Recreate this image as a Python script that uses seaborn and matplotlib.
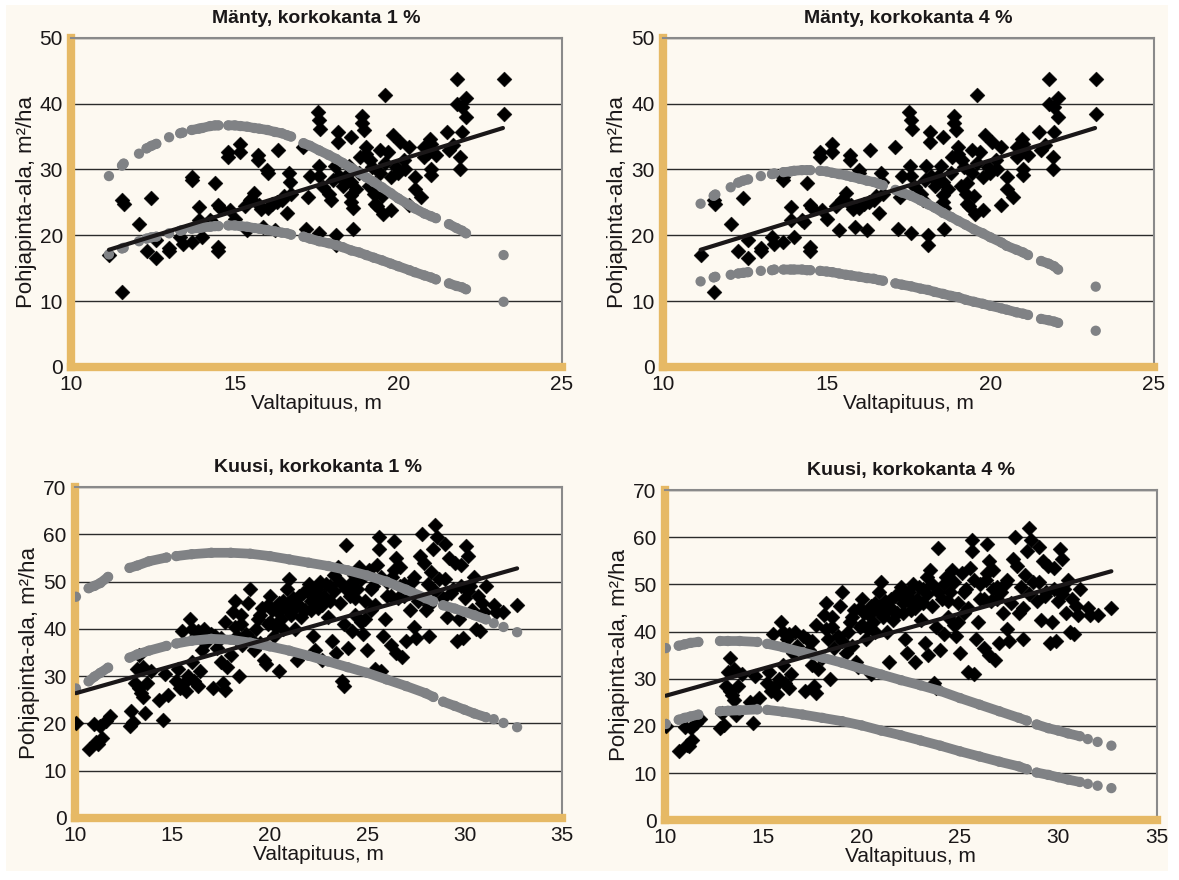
import numpy as np
import matplotlib.pyplot as plt
import seaborn as sns
from matplotlib.patches import Rectangle

nan = np.nan

# Mänty (pine): measured stands, dominant height vs basal area
pine_height = [11.15, 11.55, 11.6, 11.55, 12.07, 12.3, 12.45, 12.6, 12.6, 12.99,
               12.99, 13.33, 13.4, 13.68, 13.68, 13.68, 13.9, 14.0, 13.9, 14.25,
               14.4, 14.5, 14.5, 14.5, 14.55, 14.8, 14.8, 14.85, 15.0, 15.17,
               15.17, 15.38, 15.46, 15.6, 15.7, 15.7, 15.75, 15.87, 15.98, 16.0,
               16.15, 16.23, 16.32, 16.44, 16.6, 16.67, 16.7, 16.72, 17.1, 17.18,
               17.24, 17.3, 17.53, 17.58, 17.6, 17.56, 17.58, 17.58, 17.7, 17.87,
               17.93, 18.05, 18.1, 18.16, 18.16, 17.99, 18.56, 18.56, 18.6, 18.6,
               18.56, 18.56, 18.9, 18.9, 18.94, 18.83, 19.02, 19.02, 19.14, 19.2,
               19.25, 19.3, 19.43, 19.45, 19.54, 19.6, 19.7, 19.77, 19.77, 19.83,
               19.94, 20.0, 20.06, 20.17, 20.34, 20.34, 20.5, 20.5, 20.7, 20.8,
               20.8, 20.98, 21.0, 21.0, 21.0, 21.15, 21.5, 21.55, 21.78, 21.78,
               21.95, 22.07, 22.07, 21.95, 21.9, 21.9, 21.67, 23.22, 23.22, 18.3,
               18.4, 18.5, 18.7, 18.8, 19.1, 19.3, 19.5, 19.35, 15.5, 15.8,
               16.0, 16.3, 16.5, 15.3, 14.3, 18.2, 19.6, 20.2, 20.9, 18.1]
pine_ba = [17.0, 25.3, 24.8, 11.4, 21.7, 17.6, 25.6, 19.3, 16.5, 18.0,
           17.6, 19.8, 18.7, 28.9, 28.4, 19.0, 24.3, 19.7, 22.3, 22.3,
           28.0, 18.2, 17.6, 24.6, 24.1, 32.7, 31.9, 23.8, 22.5, 33.8,
           32.7, 20.8, 25.3, 26.4, 32.2, 31.4, 24.6, 21.3, 29.9, 29.4,
           24.8, 20.8, 33.0, 25.3, 23.4, 29.4, 28.1, 26.3, 33.4, 21.0,
           25.8, 29.0, 38.7, 37.5, 36.2, 30.6, 29.0, 20.3, 27.4, 26.3,
           25.3, 30.5, 20.0, 35.7, 34.2, 28.4, 35.0, 28.1, 21.0, 24.1,
           25.1, 26.1, 38.2, 37.0, 36.0, 31.9, 33.4, 32.4, 31.4, 30.4,
           26.3, 24.8, 32.9, 29.4, 23.3, 41.3, 32.7, 28.9, 23.8, 35.2,
           30.4, 29.4, 34.2, 31.4, 33.4, 24.6, 28.9, 27.1, 25.8, 33.4,
           31.9, 34.7, 33.9, 30.1, 29.1, 32.2, 35.7, 32.9, 43.8, 40.0,
           39.5, 40.8, 38.0, 35.7, 31.9, 30.1, 33.7, 43.7, 38.5, 27.5,
           29.0, 30.5, 27.0, 29.5, 27.5, 28.0, 26.0, 24.5, 25.5, 24.0,
           24.2, 25.0, 26.0, 24.5, 22.0, 29.0, 31.0, 30.0, 32.5, 18.6]

# Mänty: fitted trend line (end points)
pine_trend_x = [11.15, 23.2]
pine_trend_y = [17.8, 36.3]

# Mänty: grey model curves (nan = gap between runs of dots)
pine_curve_x = [11.15, nan, 11.55, 11.6, nan, 12.07, nan, 12.3, 12.45, 12.6,
                nan, 12.99, nan, 13.33, 13.4, nan, 13.68, 13.9, 14.0, 14.25,
                14.4, 14.5, nan, 14.8, 15.0, 15.17, 15.38, 15.6, 15.75, 16.0,
                16.23, 16.44, 16.6, 16.72, nan, 17.1, 17.3, 17.58, 17.87, 18.1,
                18.3, 18.56, 18.8, 19.02, 19.25, 19.5, 19.77, 20.0, 20.34, 20.5,
                20.8, 21.0, 21.15, nan, 21.55, 21.78, 21.95, 22.07, nan, 23.22]
pine1_hi = [29.0, nan, 30.6, 30.9, nan, 32.4, nan, 33.2, 33.6, 33.9,
            nan, 34.9, nan, 35.5, 35.6, nan, 36.0, 36.2, 36.3, 36.6,
            36.7, 36.7, nan, 36.7, 36.7, 36.6, 36.5, 36.3, 36.2, 36.0,
            35.7, 35.5, 35.2, 35.0, nan, 34.0, 33.6, 32.9, 32.2, 31.6,
            31.0, 30.2, 29.5, 28.8, 28.1, 27.3, 26.4, 25.6, 24.6, 24.1,
            23.3, 22.9, 22.6, nan, 21.7, 21.1, 20.7, 20.3, nan, 17.0]
pine1_lo = [17.1, nan, 18.0, 18.1, nan, 19.1, nan, 19.5, 19.7, 19.8,
            nan, 20.3, nan, 20.7, 20.8, nan, 21.0, 21.1, 21.2, 21.3,
            21.4, 21.4, nan, 21.5, 21.5, 21.4, 21.3, 21.1, 21.0, 20.8,
            20.6, 20.4, 20.3, 20.1, nan, 19.8, 19.5, 19.1, 18.8, 18.5,
            18.2, 17.7, 17.4, 17.0, 16.6, 16.2, 15.7, 15.3, 14.7, 14.4,
            13.9, 13.6, 13.3, nan, 12.7, 12.3, 12.1, 11.8, nan, 9.9]
pine4_hi = [24.8, nan, 26.0, 26.2, nan, 27.3, nan, 28.0, 28.3, 28.5,
            nan, 29.0, nan, 29.3, 29.4, nan, 29.6, 29.7, 29.8, 29.9,
            29.9, 29.9, nan, 29.8, 29.7, 29.5, 29.3, 29.1, 28.9, 28.6,
            28.3, 28.1, 27.8, 27.6, nan, 26.9, 26.5, 26.0, 25.3, 24.7,
            24.2, 23.4, 22.8, 22.2, 21.6, 20.9, 20.3, 19.7, 18.9, 18.4,
            17.8, 17.4, 17.0, nan, 16.1, 15.7, 15.3, 14.8, nan, 12.2]
pine4_lo = [13.0, nan, 13.6, 13.7, nan, 14.0, nan, 14.2, 14.3, 14.4,
            nan, 14.6, nan, 14.7, 14.8, nan, 14.8, 14.8, 14.8, 14.8,
            14.7, 14.7, nan, 14.6, 14.5, 14.4, 14.2, 14.0, 13.9, 13.7,
            13.5, 13.4, 13.2, 13.1, nan, 12.7, 12.5, 12.25, 11.9, 11.7,
            11.4, 11.1, 10.8, 10.6, 10.2, 9.9, 9.6, 9.3, 8.9, 8.7,
            8.3, 8.1, 7.9, nan, 7.3, 7.1, 6.9, 6.7, nan, 5.5]

# Kuusi (spruce): measured stands
spruce_height = [10.05, 10.7, 11.0, 11.2, 11.4, 11.3, 11.6, 11.8, 11.1, 12.8,
                 12.9, 13.0, 13.1, 13.2, 13.3, 13.4, 13.5, 13.6, 13.5, 13.7,
                 13.9, 13.3, 14.3, 14.5, 14.6, 14.8, 15.2, 15.3, 15.4, 15.5,
                 15.6, 15.7, 15.8, 15.9, 16.0, 16.1, 16.2, 16.3, 16.4, 16.5,
                 16.7, 16.6, 16.0, 17.0, 17.1, 17.3, 17.5, 17.6, 17.7, 17.8,
                 17.7, 18.0, 18.1, 18.2, 18.3, 18.4, 18.5, 18.6, 18.8, 18.9,
                 19.0, 19.2, 19.3, 19.5, 19.6, 19.7, 19.8, 19.9, 20.0, 20.1,
                 20.2, 20.3, 20.5, 20.6, 20.7, 20.8, 20.9, 21.0, 21.1, 21.2,
                 21.3, 21.4, 21.5, 21.6, 21.7, 21.8, 22.0, 22.1, 22.2, 22.3,
                 22.4, 22.5, 22.6, 22.7, 22.8, 23.0, 23.1, 23.2, 23.3, 23.4,
                 23.5, 23.6, 23.7, 23.8, 23.8, 23.9, 24.0, 24.1, 24.2, 24.3,
                 24.4, 24.5, 24.6, 24.7, 24.8, 24.9, 25.0, 25.1, 25.2, 25.3,
                 25.4, 25.5, 25.6, 25.6, 25.7, 25.8, 25.9, 26.0, 26.2, 26.3,
                 26.4, 26.5, 26.5, 26.6, 26.7, 26.8, 26.9, 27.0, 27.2, 27.3,
                 27.4, 27.5, 27.6, 27.7, 27.8, 27.9, 28.0, 28.1, 28.2, 28.3,
                 28.4, 28.5, 28.6, 28.7, 28.9, 29.0, 29.1, 29.2, 29.3, 29.5,
                 29.6, 29.7, 29.8, 29.9, 30.0, 30.1, 30.2, 30.3, 30.4, 30.6,
                 30.7, 30.8, 31.0, 31.1, 31.5, 31.6, 32.0, 32.7, 19.4, 19.9,
                 20.4, 20.7, 21.0, 21.2, 21.5, 21.9, 22.1, 22.3, 22.5, 22.7,
                 22.9, 23.1, 23.3, 23.6, 23.9, 24.2, 24.4, 24.7, 24.9, 25.2,
                 25.4, 25.7, 26.0, 26.2, 26.4, 26.7, 26.9, 27.1, 27.4, 28.2,
                 28.5, 29.0, 29.4, 29.8, 30.2, 30.5, 30.9, 18.5, 18.2, 19.0,
                 17.5, 16.3, 17.2, 19.5, 20.5, 20.0]
spruce_ba = [20.0, 14.6, 19.8, 15.7, 17.0, 19.5, 20.6, 21.5, 16.0, 19.5,
             22.7, 20.2, 28.5, 31.5, 27.5, 26.5, 25.5, 22.3, 32.0, 28.5,
             31.0, 34.5, 25.0, 20.7, 30.5, 26.0, 29.0, 31.5, 27.5, 39.5,
             28.5, 26.8, 30.0, 42.0, 40.0, 29.0, 38.5, 28.0, 31.0, 35.5,
             37.0, 40.0, 33.0, 39.0, 27.5, 36.0, 33.0, 28.5, 27.0, 32.0,
             41.5, 34.5, 43.5, 46.0, 38.5, 30.0, 41.0, 36.5, 39.0, 45.5,
             48.5, 35.5, 40.0, 43.0, 44.5, 33.5, 32.5, 41.0, 47.0, 44.0,
             38.5, 40.5, 31.0, 42.0, 46.0, 44.5, 48.5, 50.5, 43.0, 46.5,
             40.0, 33.5, 45.0, 42.5, 47.5, 44.0, 49.5, 46.0, 38.5, 35.5,
             48.5, 44.5, 50.0, 33.5, 47.0, 42.5, 49.0, 37.5, 51.5, 35.0,
             53.0, 45.5, 29.0, 41.0, 28.0, 57.8, 36.0, 47.0, 39.5, 51.5,
             43.0, 48.5, 53.0, 41.5, 39.0, 46.0, 35.5, 52.5, 44.0, 49.0,
             31.5, 53.5, 57.0, 59.5, 31.0, 38.5, 42.0, 47.0, 36.5, 51.0,
             58.5, 55.0, 35.0, 46.5, 53.0, 34.0, 49.5, 37.5, 44.0, 50.0,
             40.5, 38.0, 46.0, 55.5, 60.0, 54.0, 44.0, 49.5, 38.5, 52.0,
             57.0, 62.0, 59.5, 50.5, 46.5, 58.0, 42.5, 55.0, 47.5, 54.0,
             37.5, 42.0, 53.5, 38.0, 46.5, 57.5, 55.5, 49.0, 44.0, 40.0,
             47.0, 39.5, 43.5, 49.0, 45.0, 43.5, 43.5, 45.0, 42.0, 45.0,
             43.5, 40.0, 45.5, 44.0, 47.0, 48.0, 44.0, 47.5, 46.0, 45.0,
             49.5, 46.0, 48.0, 50.0, 48.5, 50.0, 46.5, 50.5, 42.0, 48.5,
             45.0, 51.0, 50.0, 47.0, 52.5, 49.0, 47.0, 48.5, 51.0, 45.0,
             48.0, 50.5, 48.5, 49.0, 48.0, 51.0, 45.5, 43.0, 40.5, 38.0,
             38.0, 39.5, 38.5, 37.0, 45.5, 41.5]

# Kuusi: fitted trend line (end points)
spruce_trend_x = [10.05, 32.7]
spruce_trend_y = [26.4, 52.8]

# Kuusi: grey model curves (nan = gap between runs of dots)
spruce_curve_x = [10.05, nan, 10.7, 11.0, 11.3, 11.7, nan, 12.8, 13.2, 13.8,
                  14.7, nan, 15.2, 16.0, 17.0, 18.0, 19.0, 20.0, 21.0, 22.0,
                  23.0, 24.0, 25.0, 26.0, 27.0, 28.0, 28.4, nan, 28.9, 29.5,
                  30.0, 30.5, 31.1, nan, 31.5, nan, 32.0, nan, 32.7]
spruce1_hi = [46.8, nan, 48.6, 49.1, 49.7, 51.0, nan, 52.9, 53.4, 54.3,
              55.1, nan, 55.4, 55.8, 56.1, 56.1, 55.9, 55.4, 54.7, 54.0,
              53.3, 52.4, 51.3, 50.0, 48.3, 46.5, 45.8, nan, 45.0, 44.3,
              43.6, 42.9, 42.0, nan, 41.2, nan, 40.4, nan, 39.3]
spruce1_lo = [27.4, nan, 28.9, 29.9, 30.7, 31.8, nan, 33.9, 34.6, 35.4,
              36.4, nan, 36.9, 37.5, 37.9, 37.7, 37.1, 36.3, 35.4, 34.3,
              33.1, 31.9, 30.7, 29.3, 27.9, 26.4, 25.6, nan, 24.6, 23.7,
              22.9, 22.1, 21.3, nan, 20.9, nan, 20.1, nan, 19.2]
spruce4_hi = [36.5, nan, 37.0, 37.3, 37.6, 37.8, nan, 38.0, 38.0, 38.0,
              37.8, nan, 37.4, 36.7, 35.6, 34.5, 33.4, 32.1, 30.9, 29.7,
              28.6, 27.4, 25.9, 24.5, 23.1, 21.7, 21.1, nan, 20.3, 19.5,
              19.0, 18.4, 17.8, nan, 17.2, nan, 16.6, nan, 15.8]
spruce4_lo = [20.4, nan, 21.3, 21.7, 22.0, 22.4, nan, 23.1, 23.2, 23.3,
              23.5, nan, 23.4, 23.0, 22.4, 21.7, 21.0, 20.1, 19.0, 18.0,
              16.9, 15.8, 14.6, 13.5, 12.4, 11.4, 10.8, nan, 10.1, 9.6,
              9.1, 8.6, 8.1, nan, 7.7, nan, 7.3, nan, 6.8]

titles = ["Mänty, korkokanta 1 %", "Mänty, korkokanta 4 %",
          "Kuusi, korkokanta 1 %", "Kuusi, korkokanta 4 %"]

sns.set_theme(style="white")
plt.rcParams['font.family'] = ['Liberation Sans', 'DejaVu Sans']

CREAM = '#FDF9F1'
GOLD = '#E6B965'
GREY = '#808285'
INK = '#1A1718'

fig = plt.figure(figsize=(11.79, 8.8), dpi=100, facecolor='white')
fig.patches.append(Rectangle((0.005, 0.01), 0.986, 0.984, transform=fig.transFigure,
                             facecolor=CREAM, edgecolor='none', zorder=-10))

panels = [
    ([0.0605, 0.583, 0.416, 0.374], pine_height, pine_ba, pine_curve_x,
     pine1_hi, pine1_lo, pine_trend_x, pine_trend_y, 50, 25),
    ([0.5623, 0.583, 0.4165, 0.374], pine_height, pine_ba, pine_curve_x,
     pine4_hi, pine4_lo, pine_trend_x, pine_trend_y, 50, 25),
    ([0.0636, 0.0705, 0.413, 0.376], spruce_height, spruce_ba, spruce_curve_x,
     spruce1_hi, spruce1_lo, spruce_trend_x, spruce_trend_y, 70, 35),
    ([0.564, 0.068, 0.417, 0.375], spruce_height, spruce_ba, spruce_curve_x,
     spruce4_hi, spruce4_lo, spruce_trend_x, spruce_trend_y, 70, 35),
]

for title, (rect, hx, ba, cx, hi, lo, tx, ty, ymax, xmax) in zip(titles, panels):
    ax = fig.add_axes(rect)
    ax.set_facecolor(CREAM)

    # grey model curves: thick chains of dots
    for cy in (hi, lo):
        ax.plot(cx, cy, color=GREY, lw=7.0, solid_capstyle='round', zorder=4)
        sns.scatterplot(x=cx, y=cy, ax=ax, color=GREY, s=55, edgecolor='none',
                        zorder=4, legend=False)

    sns.scatterplot(x=hx, y=ba, ax=ax, marker='D', color='black', s=58,
                    edgecolor='black', linewidth=0.3, zorder=3, legend=False)
    sns.lineplot(x=tx, y=ty, ax=ax, color=INK, lw=3.0, zorder=5)

    ax.set_xlim(10, xmax)
    ax.set_ylim(0, ymax)
    ax.set_xticks(np.arange(10, xmax + 1, 5))
    ax.set_yticks(np.arange(0, ymax + 1, 10))
    ax.yaxis.grid(True, color='#2b2b2b', lw=1.0)
    ax.set_axisbelow(True)

    for side in ('left', 'bottom'):
        ax.spines[side].set_color(GOLD)
        ax.spines[side].set_linewidth(6)
    for side in ('top', 'right'):
        ax.spines[side].set_color('#8a8a8a')
        ax.spines[side].set_linewidth(1.5)

    ax.tick_params(axis='both', which='major', direction='out', length=4,
                   width=1, color='#777777', labelsize=15, labelcolor=INK, pad=2)
    ax.set_title(title, fontsize=14, fontweight='bold', color=INK, pad=11)
    ax.set_xlabel("Valtapituus, m", fontsize=15, color=INK, labelpad=0)
    ax.set_ylabel("Pohjapinta-ala, m²/ha", fontsize=16, color=INK, labelpad=2)

fig.savefig("out.png", dpi=100, facecolor=fig.get_facecolor())
